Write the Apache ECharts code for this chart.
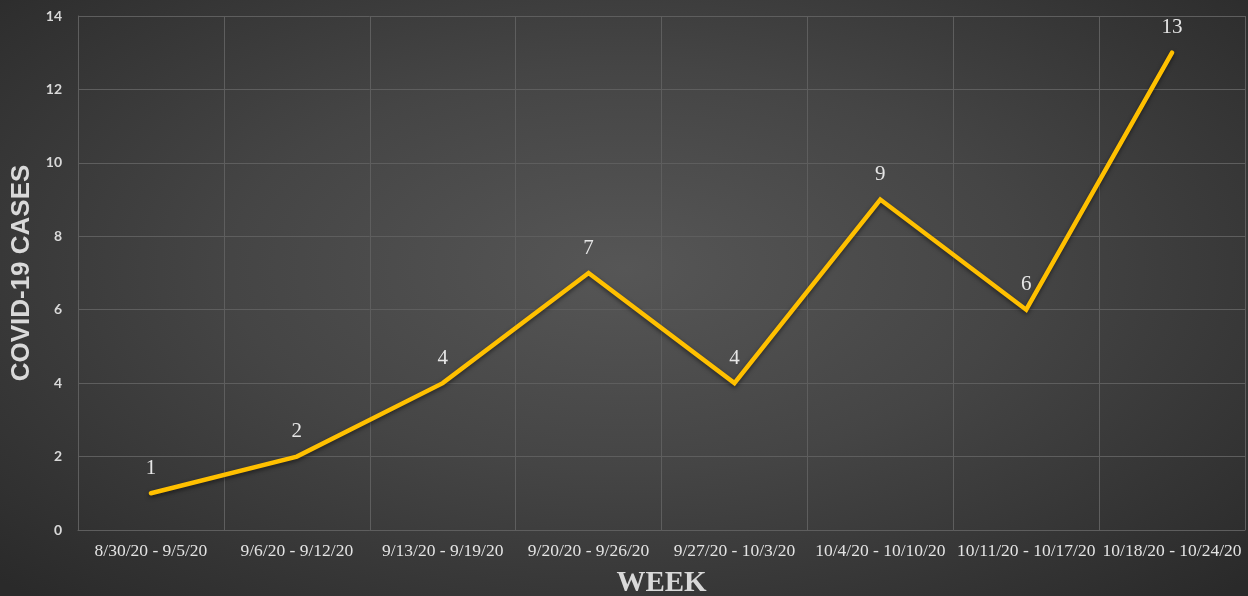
<!DOCTYPE html>
<html><head><meta charset="utf-8">
<script src="https://cdn.jsdelivr.net/npm/echarts@6/dist/echarts.min.js"></script>
<style>
html,body{margin:0;padding:0;overflow:hidden;background:#2a2a2a;}
#c{width:1248px;height:596px;background:radial-gradient(ellipse 70% 75% at 50% 45%, #565656 0%, #454545 45%, #2a2a2a 100%);}
</style></head><body>
<div id="c"></div>
<script>
const categories = ['8/30/20 - 9/5/20','9/6/20 - 9/12/20','9/13/20 - 9/19/20','9/20/20 - 9/26/20','9/27/20 - 10/3/20','10/4/20 - 10/10/20','10/11/20 - 10/17/20','10/18/20 - 10/24/20'];
const cases = [1,2,4,7,4,9,6,13];
const yTicks = {min:0, max:14, interval:2};

const chart = echarts.init(document.getElementById('c'), null, {renderer:'canvas', width:1248, height:596});
chart.setOption({
  backgroundColor:'transparent',
  animation:false,
  grid:{left:78,width:1167,top:16,height:514,containLabel:false,outerBoundsMode:'none'},
  xAxis:{
    type:'category',data:categories,boundaryGap:true,
    name:'WEEK',nameLocation:'middle',nameGap:39,
    nameTextStyle:{fontFamily:'Liberation Serif',fontWeight:'bold',fontSize:29,color:'#d9d9d9'},
    axisLine:{show:true,lineStyle:{color:'#5e5e5e',width:1}},
    axisTick:{show:false},
    axisLabel:{interval:0,fontFamily:'Liberation Serif',fontSize:17.5,color:'#e3e3e3',margin:12},
    splitLine:{show:true,lineStyle:{color:'#5e5e5e',width:1}}
  },
  yAxis:{
    type:'value',min:yTicks.min,max:yTicks.max,interval:yTicks.interval,
    name:'COVID-19 CASES',nameLocation:'middle',nameGap:43,
    nameTextStyle:{fontFamily:'Liberation Sans',fontWeight:'bold',fontSize:26,color:'#d9d9d9'},
    axisLine:{show:true,lineStyle:{color:'#5e5e5e'}},
    axisTick:{show:false},
    axisLabel:{fontFamily:'Lato',fontWeight:'bold',fontSize:14,color:'#d9d9d9',margin:16},
    splitLine:{show:true,lineStyle:{color:'#5e5e5e',width:1}}
  },
  series:[{
    type:'line',data:cases,symbol:'circle',symbolSize:1,showSymbol:true,
    lineStyle:{color:'#FFC000',width:4.5,cap:'round',join:'miter',shadowColor:'rgba(0,0,0,0.5)',shadowBlur:4,shadowOffsetY:2},
    itemStyle:{color:'#FFC000',opacity:0},
    label:{show:true,position:'top',distance:14,fontFamily:'Liberation Serif',fontSize:21,color:'#e6e6e6',opacity:1}
  }]
});
</script>
</body></html>
